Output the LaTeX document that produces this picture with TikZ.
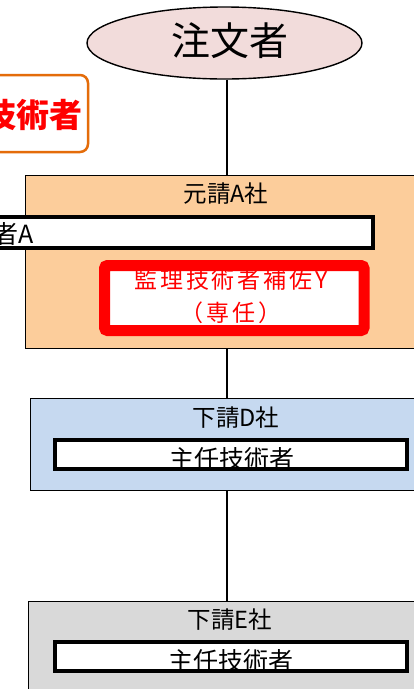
\documentclass[tikz,border=0pt]{standalone}
\usepackage{fontspec}
\newfontfamily\jp{Noto Sans CJK JP}
\usetikzlibrary{shapes.geometric}
\definecolor{pinkfill}{RGB}{242,220,219}
\definecolor{peach}{RGB}{252,205,155}
\definecolor{lblue}{RGB}{198,217,240}
\definecolor{lgray}{RGB}{217,217,217}
\definecolor{orng}{RGB}{228,108,10}
\definecolor{rd}{RGB}{255,0,0}
\tikzset{
  company/.style={draw=black, line width=1.3pt, rectangle, anchor=north west, inner sep=0pt},
  staffbox/.style={draw=black, line width=3.5pt, fill=white},
  title/.style={font=\jp\fontsize{23.5}{27}\selectfont, inner sep=0pt},
  stafftext/.style={font=\jp\fontsize{25}{29}\selectfont, inner sep=0pt},
  conn/.style={draw=black, line width=1.3pt}
}
\begin{document}
\begin{tikzpicture}[x=1pt,y=-1pt]
\useasboundingbox (0,0) rectangle (414,689);
\clip (0,0) rectangle (414,689);
\fill[white] (0,0) rectangle (414,689);
% spine
\coordinate (spine) at (227,0);
% orderer
\node[ellipse, draw=black, line width=1.4pt, fill=pinkfill, minimum width=275pt, minimum height=72pt, inner sep=0pt] (ell) at (224.5,43) {};
\node[font=\jp\fontsize{39}{44}\selectfont, inner sep=0pt] (ellt) at (229.5,41) {注文者};
% orange box (cut at left)
\draw[draw=orng, line width=2.5pt, fill=white, rounded corners=8pt] (-200,75) rectangle (88,152);
\node[font=\jp\bfseries\fontsize{33}{37}\selectfont, text=rd, anchor=east, inner sep=0pt] (orgt) at (83,115) {技術者};
% company boxes
\node[company, fill=peach, minimum width=420pt, minimum height=173pt] (boxA) at (25,175) {};
\node[company, fill=lblue, minimum width=420pt, minimum height=92pt] (boxD) at (30,398) {};
\node[company, fill=lgray, minimum width=420pt, minimum height=120pt] (boxE) at (28,601) {};
% connectors
\draw[conn] (ell.south -| spine) -- (boxA.north -| spine);
\draw[conn] (boxA.south -| spine) -- (boxD.north -| spine);
\draw[conn] (boxD.south -| spine) -- (boxE.north -| spine);
% titles
\node[title] (tA) at (226,194) {元請A社};
\node[title] (tD) at (236,418) {下請D社};
\node[title] (tE) at (230,620) {下請E社};
% box A staff
\draw[staffbox] (-100,217) rectangle (373,248);
\node[stafftext, anchor=east] (sA) at (34,234) {者A};
\draw[draw=rd, fill=white, line width=11pt, rounded corners=3pt] (104.5,265.5) rectangle (364,330.5);
\node[font=\jp\fontsize{23}{33}\selectfont\addfontfeatures{LetterSpace=12}, text=rd, align=center, inner sep=0pt] (sY) at (231,296) {監理技術者補佐Y\\（専任）};
% box D staff
\draw[staffbox] (55,440) rectangle (407,469);
\node[stafftext] (sD) at (231.5,459) {主任技術者};
% box E staff
\draw[staffbox] (55,642) rectangle (407,671);
\node[stafftext] (sE) at (230.5,661) {主任技術者};
\end{tikzpicture}
\end{document}
